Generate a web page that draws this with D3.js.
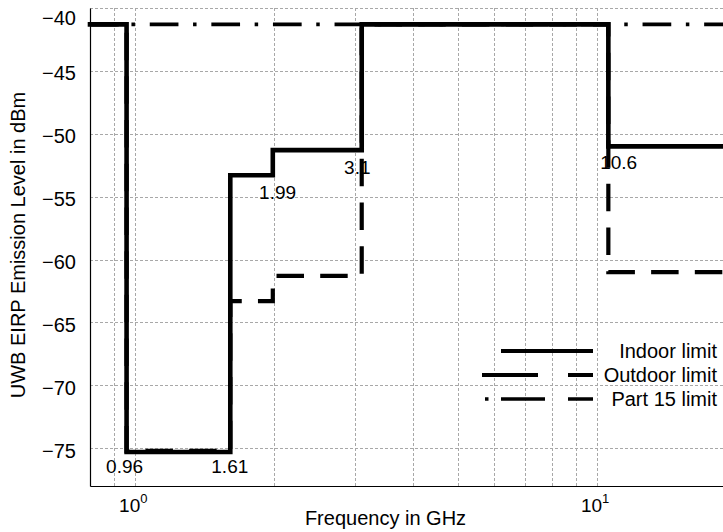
<!DOCTYPE html>
<html>
<head>
<meta charset="utf-8">
<script src="https://cdn.jsdelivr.net/npm/d3@7"></script>
<style>
  html, body { margin: 0; padding: 0; background: #fff; }
  svg { display: block; }
  text { font-family: "Liberation Sans", Arial, Helvetica, sans-serif; fill: #000; }
</style>
</head>
<body>
<svg id="chart" width="723" height="532"></svg>
<script>
// Band edges in GHz and the step levels (dBm) between them
const bandEdges    = [0.8, 0.96, 1.61, 1.99, 3.1, 10.6, 20];
const indoorLevel  = [-41.3, -75.3, -53.3, -51.3, -41.3, -51.0];
const outdoorLevel = [-41.3, -75.2, -63.3, -61.3, -41.3, -61.0];
const part15Edges  = [0.8, 20];
const part15Level  = [-41.3];

// Frequency annotations placed beside the steps
const noteText  = ["0.96", "1.61", "1.99", "3.1", "10.6"];
const noteFreq  = [0.96, 1.61, 1.99, 3.1, 10.6];
const noteLevel = [-76.94, -76.94, -55.2, -53.2, -52.8];

const yTicks = [-75, -70, -65, -60, -55, -50, -45, -40];
const xTicks = [1, 10];
const xGrid  = [0.9, 1, 2, 3, 4, 5, 6, 7, 8, 9, 10, 20];

const legendLabels = ["Indoor limit", "Outdoor limit", "Part 15 limit"];

const svg = d3.select("#chart");
const plotLeft = 90, plotTop = 8, plotBottom = 486, plotRight = 735.7;

const x = d3.scaleLog().domain([0.8, 20]).range([plotLeft, plotRight]);
const y = d3.scaleLinear().domain([-78, -40]).range([plotBottom, plotTop]);

// grid
const grid = svg.append("g")
  .attr("stroke", "#a8a8a8").attr("stroke-width", 1)
  .attr("stroke-dasharray", "3,2").attr("shape-rendering", "crispEdges");
grid.selectAll("line.gx").data(xGrid).join("line").attr("class", "gx")
  .attr("x1", d => Math.round(x(d)) + 0.5).attr("x2", d => Math.round(x(d)) + 0.5)
  .attr("y1", plotTop).attr("y2", plotBottom);
grid.selectAll("line.gy").data(yTicks).join("line").attr("class", "gy")
  .attr("x1", plotLeft).attr("x2", plotRight)
  .attr("y1", d => Math.round(y(d)) + 0.5).attr("y2", d => Math.round(y(d)) + 0.5);

// axes
const yAxis = svg.append("g").attr("transform", `translate(${plotLeft},0)`)
  .call(d3.axisLeft(y).tickValues(yTicks).tickSize(0).tickPadding(14).tickFormat(d3.format("d")));
yAxis.select(".domain").attr("stroke", "#000").attr("stroke-width", 1.2);
yAxis.selectAll(".tick text")
  .attr("font-size", 20)
  .attr("font-family", "Liberation Sans, Arial, sans-serif")
  .attr("dy", d => d === -40 ? "0.8em" : "0.45em");

const xAxis = svg.append("g").attr("transform", `translate(0,${plotBottom})`)
  .call(d3.axisBottom(x).tickValues(xTicks).tickSize(0).tickFormat(() => ""));
xAxis.select(".domain").attr("stroke", "#000").attr("stroke-width", 1.2);
xAxis.selectAll(".tick text").remove();
xAxis.selectAll(".tick").append("text")
  .attr("x", -2).attr("y", 26).attr("text-anchor", "middle")
  .attr("font-size", 19)
  .each(function(d) {
    const t = d3.select(this);
    t.append("tspan").text("10");
    t.append("tspan").attr("dy", -9).attr("font-size", 13).text(Math.round(Math.log10(d)));
  });

// axis titles
svg.append("text").attr("x", 385.5).attr("y", 525).attr("text-anchor", "middle")
  .attr("font-size", 20).text("Frequency in GHz");
svg.append("text").attr("transform", "translate(25,245) rotate(-90)")
  .attr("text-anchor", "middle").attr("font-size", 20).text("UWB EIRP Emission Level in dBm");

// frequency notes (drawn under the limit lines)
const noteDx = [-2, -0.5, 4.8, -4.4, 10.3];
svg.selectAll("text.note").data(noteText).join("text")
  .attr("class", "note")
  .attr("x", (d, i) => x(noteFreq[i]) + noteDx[i])
  .attr("y", (d, i) => y(noteLevel[i]))
  .attr("text-anchor", "middle").attr("font-size", 19).text(d => d);

// step paths
function stepData(edges, levels) {
  const pts = levels.map((v, i) => [edges[i], v]);
  pts.push([edges[edges.length - 1], levels[levels.length - 1]]);
  return pts;
}
const stepLine = d3.line().x(d => x(d[0])).y(d => y(d[1])).curve(d3.curveStepAfter);

// screen-space length of a step path up to a given corner index
function lengthTo(edges, levels, cornerIdx) {
  let len = 0, px = x(edges[0]), py = y(levels[0]);
  for (let i = 1; i <= cornerIdx; i++) {
    const cx = x(edges[i]);
    len += Math.abs(cx - px);
    const ny = y(levels[i]);
    len += Math.abs(ny - py);
    px = cx; py = ny;
  }
  return len;
}

// Part 15: dash-dot
svg.append("path")
  .datum(stepData(part15Edges, part15Level))
  .attr("d", stepLine)
  .attr("fill", "none").attr("stroke", "#000").attr("stroke-width", 3.6)
  .attr("stroke-dasharray", "28.7,14.6,3.5,14.8")
  .attr("stroke-dashoffset", 1.85);

// Outdoor: dashed, phase anchored just after the 1.99 GHz corner
const outPeriodStart = lengthTo(bandEdges, outdoorLevel, 3) + 3.7;
svg.append("path")
  .datum(stepData(bandEdges, outdoorLevel))
  .attr("d", stepLine)
  .attr("fill", "none").attr("stroke", "#000").attr("stroke-width", 4.2)
  .attr("stroke-dasharray", "27.5,16.2")
  .attr("stroke-dashoffset", -outPeriodStart);

// Indoor: solid
svg.append("path")
  .datum(stepData(bandEdges, indoorLevel))
  .attr("d", stepLine)
  .attr("fill", "none").attr("stroke", "#000").attr("stroke-width", 4.6)
  .attr("stroke-linecap", "square").attr("stroke-linejoin", "miter");

// legend
const lg = svg.append("g");
const rowY = [351, 375, 399];
lg.selectAll("text").data(legendLabels).join("text")
  .attr("x", 717).attr("y", (d, i) => rowY[i] + 7)
  .attr("text-anchor", "end").attr("font-size", 20).text(d => d);
lg.append("line").attr("x1", 501).attr("x2", 593).attr("y1", rowY[0]).attr("y2", rowY[0])
  .attr("stroke", "#000").attr("stroke-width", 4.2);
lg.append("line").attr("x1", 482).attr("x2", 593).attr("y1", rowY[1]).attr("y2", rowY[1])
  .attr("stroke", "#000").attr("stroke-width", 4.2).attr("stroke-dasharray", "56,30,25");
lg.append("line").attr("x1", 485).attr("x2", 593).attr("y1", rowY[2]).attr("y2", rowY[2])
  .attr("stroke", "#000").attr("stroke-width", 3.6).attr("stroke-dasharray", "3.5,12.5,44,23,25");
</script>
</body>
</html>
